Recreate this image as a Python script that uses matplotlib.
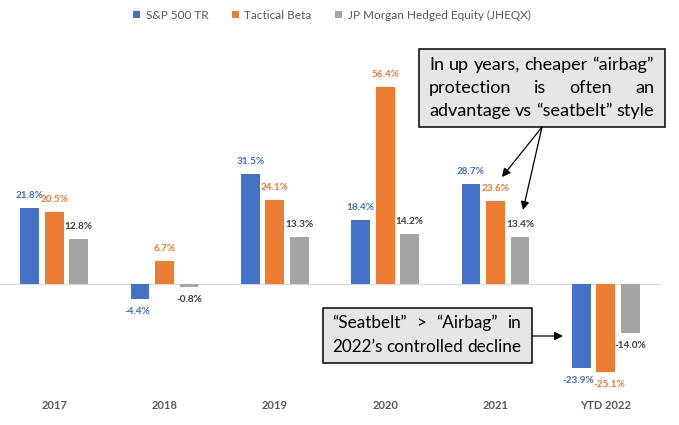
import matplotlib
matplotlib.use('Agg')
import matplotlib.pyplot as plt
from matplotlib import font_manager
from matplotlib.patches import Rectangle, FancyArrowPatch
import numpy as np

categories = ['2017', '2018', '2019', '2020', '2021', 'YTD 2022']
series_names = ['S&P 500 TR', 'Tactical Beta', 'JP Morgan Hedged Equity (JHEQX)']
sp500 = [21.8, -4.4, 31.5, 18.4, 28.7, -23.9]
tactical = [20.5, 6.7, 24.1, 56.4, 23.6, -25.1]
jheqx = [12.8, -0.8, 13.3, 14.2, 13.4, -14.0]

bar_colors = ['#4472C4', '#ED7D31', '#A5A5A5']
label_colors = ['#4472C4', '#ED7D31', '#404040']

box1_lines = ['In up years, cheaper \u201cairbag\u201d',
              'protection is often an',
              'advantage vs \u201cseatbelt\u201d style']
box2_lines = ['\u201cSeatbelt\u201d > \u201cAirbag\u201d in',
              '2022\u2019s controlled decline']


def pick(fams):
    for f in fams:
        try:
            font_manager.findfont(f, fallback_to_default=False)
            return f
        except Exception:
            pass
    return 'DejaVu Sans'


narrow = pick(['Liberation Sans Narrow', 'Lato'])
body = pick(['Lato', 'Open Sans'])

W, H = 679, 425
fig = plt.figure(figsize=(W / 100, H / 100), dpi=100)


def px(x, y):
    return x / W, 1 - y / H


ax = fig.add_axes([-1 / W, 1 - 385 / H, 662 / W, 315 / H])
x = np.arange(len(categories))
step, width = 0.222, 0.172
all_series = [sp500, tactical, jheqx]
neg_shift = [-3, 3, 0]  # keep neighbouring negative labels apart
for i, vals in enumerate(all_series):
    xs = x + (i - 1) * step
    ax.bar(xs, vals, width, color=bar_colors[i], label=series_names[i], zorder=2)
    for xv, v in zip(xs, vals):
        dy = 9 if v >= 0 else -9
        dx = 0 if v >= 0 else neg_shift[i] * 0.75
        ax.annotate(f'{v:.1f}%', (xv, v), xytext=(dx, dy), textcoords='offset points',
                    ha='center', va='center', fontsize=7.2, fontweight='bold',
                    color=label_colors[i], family=narrow)

ax.axhline(0, color='#D9D9D9', lw=0.9, zorder=1)
ax.set_xlim(-0.5, 5.5)
ax.set_ylim(-28.86, 61.14)
for s in ax.spines.values():
    s.set_visible(False)
ax.set_yticks([])
ax.set_xticks(x)
ax.set_xticklabels(categories, fontsize=8, fontweight='bold', color='#595959', family=narrow)
ax.tick_params(axis='x', length=0, pad=11)

handles, labels = ax.get_legend_handles_labels()
leg = fig.legend(handles, labels, loc='center', bbox_to_anchor=px(332, 15), ncol=3,
                 frameon=False, handlelength=0.55, handleheight=0.55,
                 handletextpad=0.5, columnspacing=2.0, prop={'family': narrow, 'size': 8.5})
for t in leg.get_texts():
    t.set_color('#595959')

# annotation boxes
for (x0, y0, x1, y1) in [(419, 49, 665, 127), (323, 308, 532, 363)]:
    fig.patches.append(Rectangle(px(x0, y1), (x1 - x0) / W, (y1 - y0) / H,
                                 transform=fig.transFigure, facecolor='#E7E6E6',
                                 edgecolor='black', lw=1.1, zorder=5))

fig.canvas.draw()
renderer = fig.canvas.get_renderer()


def fit_size(line, target, size=12):
    t = fig.text(0, 0, line, fontsize=size, family=body)
    w = t.get_window_extent(renderer).width
    t.remove()
    return size * target / w


def justify(lines, xl, xr, ys, size):
    for line, yv in zip(lines, ys):
        words = line.split()
        texts = [fig.text(0, px(0, yv)[1], w, fontsize=size, family=body,
                          va='center', ha='left', zorder=6) for w in words]
        widths = [t.get_window_extent(renderer).width for t in texts]
        gap = (xr - xl - sum(widths)) / max(len(words) - 1, 1)
        cur = xl
        for t, wd in zip(texts, widths):
            t.set_x(cur / W)
            cur += wd + gap


s1 = fit_size(box1_lines[2], 654 - 429)
justify(box1_lines, 429, 654, [65, 88, 111], s1)
s2 = fit_size(box2_lines[1], 521 - 332)
justify(box2_lines, 332, 521, [323, 347], s2)

for (a, b) in [((542, 127), (502, 177)), ((542, 127), (523, 210)), ((532, 336), (563, 336))]:
    fig.patches.append(FancyArrowPatch(px(*a), px(*b), transform=fig.transFigure,
                                       arrowstyle='-|>,head_length=5,head_width=2.5',
                                       color='black', lw=0.9, shrinkA=0, shrinkB=0, zorder=6))

fig.savefig('out.png', dpi=100)
